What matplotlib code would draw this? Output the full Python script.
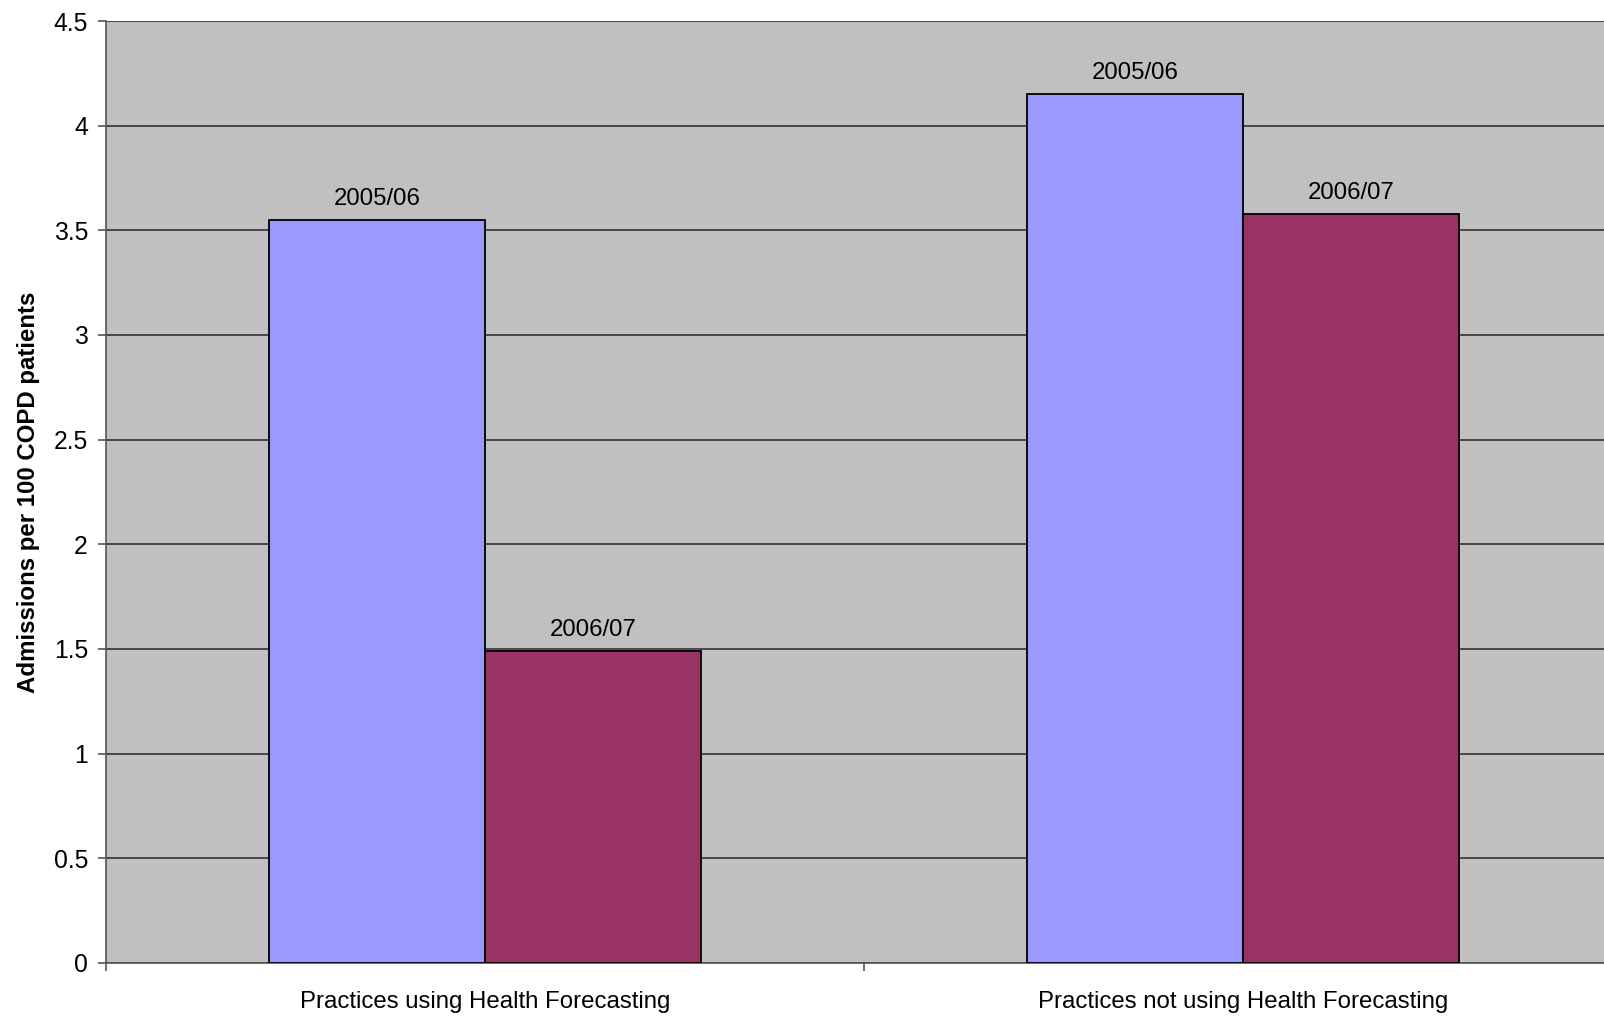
import numpy as np
import matplotlib.pyplot as plt

plt.rcParams['font.family'] = ['Liberation Sans', 'DejaVu Sans']

# Data
categories = ['Practices using Health Forecasting', 'Practices not using Health Forecasting']
years = ['2005/06', '2006/07']
values_0506 = [3.55, 4.15]
values_0607 = [1.49, 3.58]
colors = ['#9999FF', '#993366']
yticks = [0, 0.5, 1, 1.5, 2, 2.5, 3, 3.5, 4, 4.5]
ytick_labels = ['0', '0.5', '1', '1.5', '2', '2.5', '3', '3.5', '4', '4.5']

fs = 17.3

fig = plt.figure(figsize=(16.04, 10.16), dpi=100)
# plot area runs off the right edge of the picture, like the original
ax = fig.add_axes([106 / 1604, 1 - 963 / 1016, 1498 / 1604, 942 / 1016])
ax.set_facecolor('#C0C0C0')

centers = np.arange(len(categories)) + 0.5
width = 0.285
for i, (vals, year) in enumerate(zip([values_0506, values_0607], years)):
    xs = centers + (i - 0.5) * width
    bars = ax.bar(xs, vals, width=width, color=colors[i], edgecolor='black',
                  linewidth=1.3, zorder=3)
    for b, v in zip(bars, vals):
        ax.annotate(year, (b.get_x() + b.get_width() / 2, v), xytext=(0, 15),
                    textcoords='offset points', ha='center', va='center',
                    fontsize=fs)

ax.set_yticks(yticks)
ax.set_yticklabels(ytick_labels)
ax.yaxis.grid(True, color='#333333', linewidth=1.2, zorder=1)
ax.set_axisbelow(True)

ax.set_xticks(centers)
ax.set_xticklabels(categories)
ax.set_xticks([0, 1], minor=True)
ax.tick_params(axis='x', which='major', length=0, pad=20, labelsize=fs)
ax.tick_params(axis='x', which='minor', length=6, width=1.2, color='#555555', direction='out')
ax.tick_params(axis='y', length=6, width=1.2, color='#555555', pad=7, labelsize=17.8)

# limits last so the ticks do not stretch them
ax.set_xlim(0, 1498 / 758)
ax.set_ylim(0, 4.5)

for side in ['top', 'right']:
    ax.spines[side].set_visible(False)
for side in ['left', 'bottom']:
    ax.spines[side].set_color('#555555')
    ax.spines[side].set_linewidth(1.2)

ax.set_ylabel('Admissions per 100 COPD patients', fontsize=fs, fontweight='bold', labelpad=10)

fig.savefig('out.png', dpi=100)
